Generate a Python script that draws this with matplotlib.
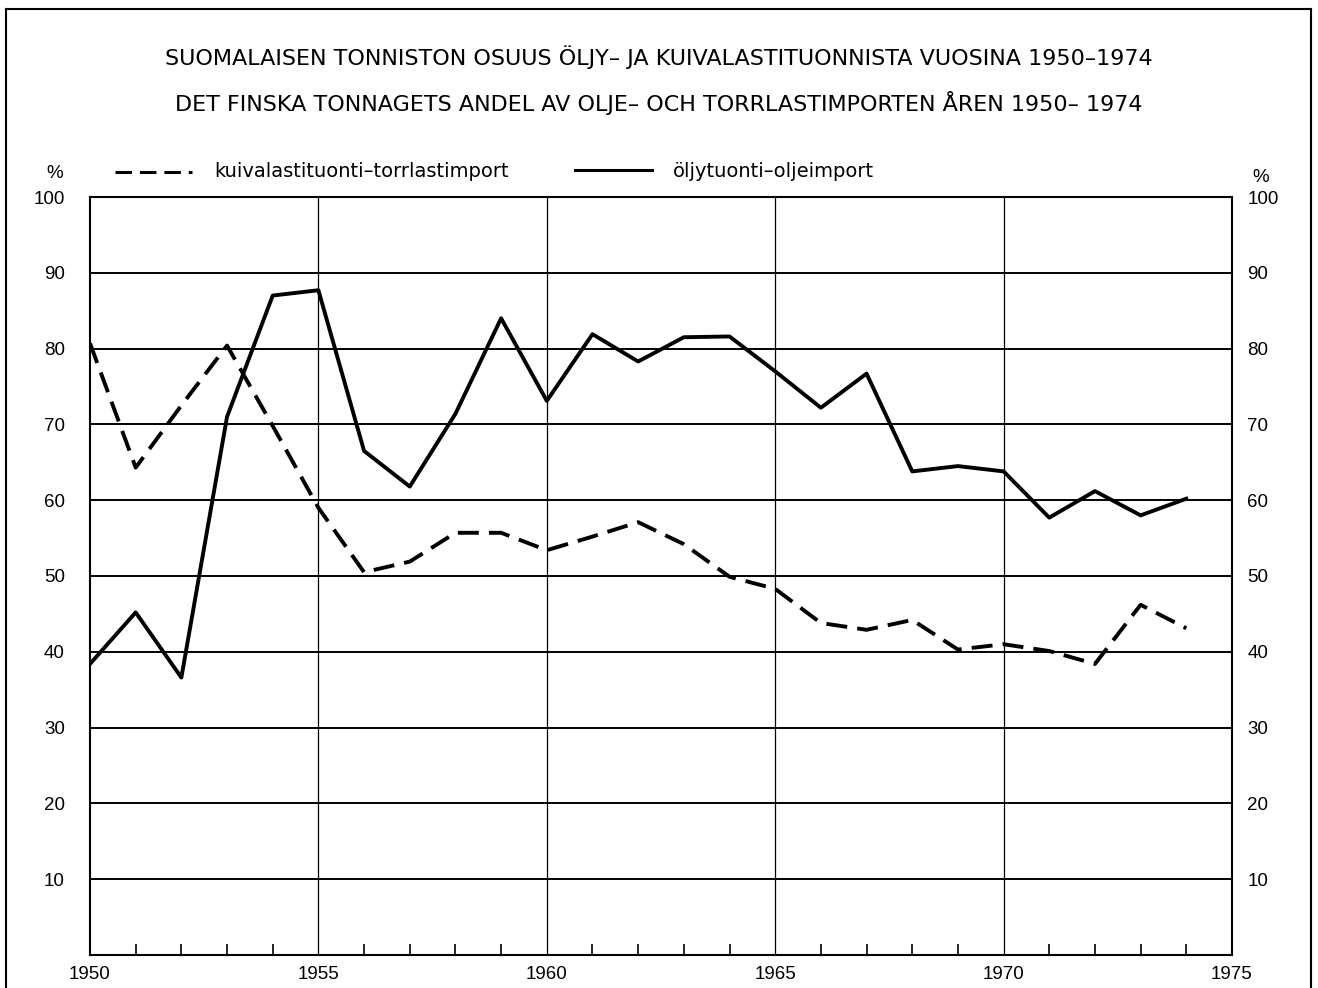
import matplotlib
matplotlib.use('Agg')
import matplotlib.pyplot as plt
from matplotlib.lines import Line2D

plt.rcParams['font.family'] = ['Liberation Sans', 'DejaVu Sans']

years = list(range(1950, 1975))
# öljytuonti - oljeimport
oil = [38.4, 45.2, 36.6, 71.0, 87.0, 87.7, 66.5, 61.8, 71.4, 84.0,
       73.1, 81.9, 78.3, 81.5, 81.6, 77.0, 72.2, 76.7, 63.8, 64.5,
       63.8, 57.7, 61.2, 58.0, 60.2]
# kuivalastituonti - torrlastimport
dry = [80.7, 64.3, 72.5, 80.4, 69.8, 59.0, 50.5, 51.9, 55.7, 55.7,
       53.4, 55.2, 57.1, 54.2, 49.9, 48.3, 43.8, 42.9, 44.2, 40.3,
       41.0, 40.1, 38.4, 46.2, 43.1]

x_ticks = [1950, 1955, 1960, 1965, 1970, 1975]
y_ticks = [10, 20, 30, 40, 50, 60, 70, 80, 90, 100]

title1 = 'SUOMALAISEN TONNISTON OSUUS ÖLJY– JA KUIVALASTITUONNISTA VUOSINA 1950–1974'
title2 = 'DET FINSKA TONNAGETS ANDEL AV OLJE– OCH TORRLASTIMPORTEN ÅREN 1950– 1974'
label_dry = 'kuivalastituonti–torrlastimport'
label_oil = 'öljytuonti–oljeimport'

fig = plt.figure(figsize=(13.18, 9.88), dpi=100)
ax = fig.add_axes([90 / 1318, 1 - 955 / 988, 1142 / 1318, (955 - 197) / 988])

ax.set_xlim(1950, 1975)
ax.set_ylim(0, 100)

# grid
for yv in y_ticks:
    ax.axhline(yv, color='black', lw=1.4, zorder=1)
for xv in x_ticks[1:-1]:
    ax.axvline(xv, color='black', lw=0.9, zorder=1)

ax.plot(years, dry, color='black', lw=2.8, dashes=(5.4, 2.6), zorder=3)
ax.plot(years, oil, color='black', lw=2.8, zorder=3)

for s in ax.spines.values():
    s.set_linewidth(1.5)

ax.set_xticks(x_ticks)
ax.set_xticklabels([str(v) for v in x_ticks], fontsize=13.5)
ax.set_xticks(years, minor=True)
ax.tick_params(axis='x', which='major', length=0, pad=8)
ax.tick_params(axis='x', which='minor', direction='in', length=8, width=1.2)
ax.set_yticks(y_ticks)
ax.set_yticklabels([str(v) for v in y_ticks], fontsize=13.5)
ax.tick_params(axis='y', which='both', length=0, pad=18)

# right-hand scale
ax2 = ax.twinx()
ax2.set_ylim(ax.get_ylim())
ax2.set_yticks(y_ticks)
ax2.set_yticklabels([str(v) for v in y_ticks], fontsize=13.5)
ax2.tick_params(axis='y', length=0, pad=11)
for s in ax2.spines.values():
    s.set_visible(False)

# titles
fig.text(0.5, 1 - 57 / 988, title1, ha='center', va='center', fontsize=16,
         family='DejaVu Sans')
fig.text(0.5, 1 - 103 / 988, title2, ha='center', va='center', fontsize=16,
         family='DejaVu Sans')

# legend drawn by hand
fig.text(55 / 1318, 1 - 173 / 988, '%', ha='center', va='center', fontsize=13.5)
fig.text(1261 / 1318, 1 - 178 / 988, '%', ha='center', va='center', fontsize=13.5)
fig.add_artist(Line2D([115 / 1318, 192 / 1318], [1 - 172 / 988] * 2,
                      color='black', lw=2.2, dashes=(5.4, 2.6)))
fig.text(214 / 1318, 1 - 171 / 988, label_dry, ha='left', va='center', fontsize=14,
         family='DejaVu Sans')
fig.add_artist(Line2D([575 / 1318, 652 / 1318], [1 - 170 / 988] * 2,
                      color='black', lw=2.2))
fig.text(673 / 1318, 1 - 171 / 988, label_oil, ha='left', va='center', fontsize=14,
         family='DejaVu Sans')

# outer frame
fig.add_artist(Line2D([6 / 1318, 6 / 1318], [0, 1 - 9 / 988], color='black', lw=1.5))
fig.add_artist(Line2D([1311 / 1318, 1311 / 1318], [0, 1 - 9 / 988], color='black', lw=1.5))
fig.add_artist(Line2D([6 / 1318, 1311 / 1318], [1 - 9 / 988] * 2, color='black', lw=1.5))

fig.savefig('out.png', dpi=100)
